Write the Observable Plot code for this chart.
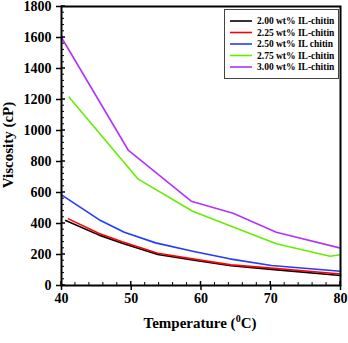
<!DOCTYPE html>
<html><head><meta charset="utf-8">
<script src="https://cdn.jsdelivr.net/npm/d3@7"></script>
<script src="https://cdn.jsdelivr.net/npm/@observablehq/plot@0.6"></script>
<style>body{margin:0;background:#fff} svg{display:block}</style>
</head><body><div id="chart"></div>
<script>
const seriesNames = ["2.00 wt% IL-chitin","2.25 wt% IL-chitin","2.50 wt% IL chitin","2.75 wt% IL-chitin","3.00 wt% IL-chitin"];
const seriesColors = ["#000000","#ff0000","#1f3cff","#66ee00","#b033ff"];

const temp200 = [40.6,45.4,48.7,53.8,59.0,64.3,70.1,80];
const visc200 = [419,325,272,200,163,127,104,65];
const temp225 = [41.0,45.4,48.7,53.8,59.0,64.3,70.1,80];
const visc225 = [430,335,282,208,170,133,112,74];
const temp250 = [40,45.6,49.0,53.5,58.8,64.1,70.1,80];
const visc250 = [585,419,344,275,221,172,129,92];
const temp275 = [41.1,51.0,58.8,70.8,78.5,80];
const visc275 = [1215,686,479,269,189,198];
const temp300 = [40,49.6,58.6,64.6,70.8,80];
const visc300 = [1600,871,544,466,344,241];

const xTicks = [40,50,60,70,80];
const yTicks = [0,200,400,600,800,1000,1200,1400,1600,1800];
const xMinor = d3.range(40,81,2);
const yMinor = d3.range(0,1801,40);
const xTitle = ["Temperature (","0","C)"];
const yTitle = "Viscosity (cP)";

const temps = [temp200,temp225,temp250,temp275,temp300];
const viscs = [visc200,visc225,visc250,visc275,visc300];
const data = [];
temps.forEach((ts,i)=>ts.forEach((t,j)=>data.push({series:seriesNames[i], t, v:viscs[i][j]})));

const W=348,H=343;
const font = "'Liberation Serif','Times New Roman',serif";
const chart = Plot.plot({
  width: W, height: H,
  marginLeft: 61, marginRight: 8, marginTop: 6, marginBottom: 58,
  style: {fontFamily: font, fontSize: "14px", fontWeight: "bold", background: "#fff", overflow: "visible"},
  x: {domain: [40,80]},
  y: {domain: [0,1800]},
  color: {domain: seriesNames, range: seriesColors},
  marks: [
    Plot.line(data, {x:"t", y:"v", z:"series", stroke:"series", strokeWidth:1.6}),
    Plot.frame({stroke:"black", strokeWidth:2}),
    Plot.axisX({ticks: xTicks, tickSize: 5, tickPadding: 3, label: null, tickFormat: d=>String(d), fontWeight:"bold", strokeWidth:1.5}),
    Plot.axisY({ticks: yTicks, tickSize: 5, tickPadding: 5, label: null, tickFormat: d=>String(d), fontWeight:"bold", strokeWidth:1.5})
  ]
});
document.getElementById("chart").appendChild(chart);

const svg = d3.select(chart);
const sx = chart.scale("x"), sy = chart.scale("y");
const x0 = sx.apply(40), y0 = sy.apply(0);
// inward ticks
const tg = svg.append("g").attr("stroke","#000");
xMinor.forEach(v=>{
  const major = xTicks.includes(v);
  tg.append("line").attr("x1",sx.apply(v)).attr("x2",sx.apply(v)).attr("y1",y0).attr("y2",y0-(major?4:3)).attr("stroke-width",major?1.5:1);
});
yMinor.forEach(v=>{
  const major = yTicks.includes(v);
  tg.append("line").attr("y1",sy.apply(v)).attr("y2",sy.apply(v)).attr("x1",x0).attr("x2",x0+(major?4:3)).attr("stroke-width",major?1.5:1);
});

// axis titles
const xt = svg.append("text").attr("x", 200).attr("y", 328).attr("text-anchor","middle")
  .attr("font-family", font).attr("font-size", 15).attr("font-weight","bold").attr("fill","#000");
xt.append("tspan").text(xTitle[0]);
xt.append("tspan").attr("font-size", 10).attr("dy", -6).text(xTitle[1]);
xt.append("tspan").attr("dy", 6).text(xTitle[2]);
svg.append("text").attr("transform","translate(13,145) rotate(-90)").attr("text-anchor","middle")
  .attr("font-family", font).attr("font-size", 15).attr("font-weight","bold").attr("fill","#000").text(yTitle);

// legend
const lg = svg.append("g").attr("font-family", font).attr("font-size", 9.5).attr("font-weight","bold").attr("text-anchor","start");
lg.append("rect").attr("x",224.5).attr("y",9.5).attr("width",114).attr("height",69).attr("fill","#fff").attr("stroke","#444").attr("stroke-width",1);
seriesNames.forEach((n,i)=>{
  const y = 21 + i*11.5;
  lg.append("line").attr("x1",230).attr("x2",252).attr("y1",y).attr("y2",y).attr("stroke",seriesColors[i]).attr("stroke-width",1.6);
  lg.append("text").attr("x",257).attr("y",y).attr("dy","0.35em").attr("text-anchor","start").attr("fill","#000").text(n);
});
</script></body></html>
